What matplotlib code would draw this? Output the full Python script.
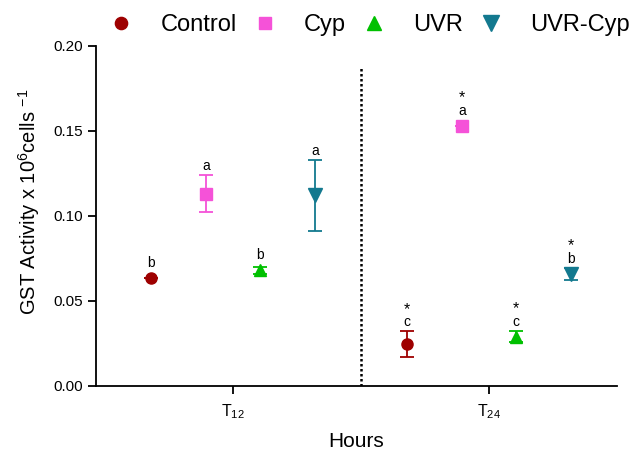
import numpy as np
import matplotlib
matplotlib.use("Agg")
import matplotlib.pyplot as plt

plt.rcParams["font.family"] = ["Liberation Sans", "DejaVu Sans"]
plt.rcParams["mathtext.default"] = "regular"

# data
hours = ["T$_{12}$", "T$_{24}$"]
groups = ["Control", "Cyp", "UVR", "UVR-Cyp"]
means = {
    "Control": [0.0635, 0.0245],
    "Cyp": [0.113, 0.153],
    "UVR": [0.068, 0.029],
    "UVR-Cyp": [0.112, 0.066],
}
errs = {
    "Control": [0.0, 0.0075],
    "Cyp": [0.011, 0.0],
    "UVR": [0.002, 0.003],
    "UVR-Cyp": [0.021, 0.0035],
}
letters = {
    "Control": ["b", "c"],
    "Cyp": ["a", "a"],
    "UVR": ["b", "c"],
    "UVR-Cyp": ["a", "b"],
}
stars = {
    "Control": [False, True],
    "Cyp": [False, True],
    "UVR": [False, True],
    "UVR-Cyp": [False, True],
}

colors = {"Control": "#9e0000", "Cyp": "#f552d8", "UVR": "#00c000", "UVR-Cyp": "#13798f"}
markers = {"Control": "o", "Cyp": "s", "UVR": "^", "UVR-Cyp": "v"}
msize = {"Control": 8, "Cyp": 8, "UVR": 9, "UVR-Cyp": 10}
offsets = [-0.32, -0.105, 0.105, 0.32]

fig = plt.figure(figsize=(6.32, 4.54), dpi=100)
ax = fig.add_axes([0.152, 0.15, 0.824, 0.749])

x = np.array([1, 2])
for g, off in zip(groups, offsets):
    xs = x + off
    ax.errorbar(xs, means[g], yerr=errs[g], fmt=markers[g], color=colors[g],
                ms=msize[g], capsize=5, elinewidth=1.3, capthick=1.3,
                label=g, zorder=3)
    for xi, m, e, lt, st in zip(xs, means[g], errs[g], letters[g], stars[g]):
        top = m + max(e, 0.0035)
        ax.annotate(lt, (xi, top), xytext=(0, 1.5), textcoords="offset points",
                    ha="center", va="bottom", fontsize=10)
        if st:
            ax.annotate("*", (xi, top), xytext=(0, 10.5), textcoords="offset points",
                        ha="center", va="bottom", fontsize=11.5)

ax.plot([1.5, 1.5], [0, 0.188], color="black", ls=(0, (1, 1)), lw=1.8)

ax.set_xlim(0.465, 2.5)
ax.set_ylim(0, 0.20)
ax.set_xticks(x)
ax.set_xticklabels(hours, fontsize=11.5)
ax.set_yticks(np.arange(0, 0.201, 0.05))
ax.set_yticklabels([f"{v:.2f}" for v in np.arange(0, 0.201, 0.05)], fontsize=11)
ax.set_xlabel("Hours", fontsize=15, labelpad=8)
ax.set_ylabel("GST Activity x 10$^6$cells $^{-1}$", fontsize=14.5)
ax.yaxis.set_label_coords(-0.104, 0.54)
ax.spines["top"].set_visible(False)
ax.spines["right"].set_visible(False)
ax.spines["left"].set_linewidth(1.3)
ax.spines["bottom"].set_linewidth(1.3)
ax.tick_params(direction="out", length=6, width=1.3)
ax.tick_params(axis="x", pad=6)

h, l = ax.get_legend_handles_labels()
h = [hh[0] for hh in h]
fig.legend(h, l, loc="center", bbox_to_anchor=(0.585, 0.945), ncol=4,
           frameon=False, fontsize=17, handlelength=1.0, handletextpad=1.15,
           columnspacing=0.7, markerscale=1.1)

fig.savefig("out.png", dpi=100)
